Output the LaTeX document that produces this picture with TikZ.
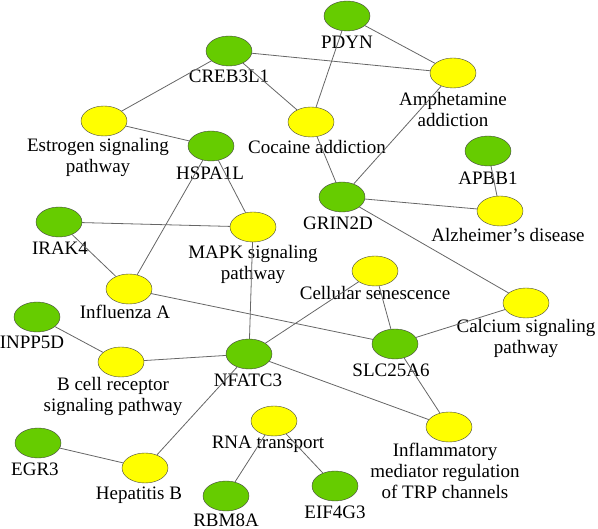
\documentclass[tikz,border=0pt]{standalone}
\usepackage{fontspec}
\setmainfont{Liberation Serif}
\usetikzlibrary{shapes.geometric}

\definecolor{genegreen}{HTML}{66CC00}
\definecolor{pathyellow}{HTML}{FFFF00}

\begin{document}
\begin{tikzpicture}
[x=1pt,y=-1pt,
  genedecorate/.style={shape=ellipse,draw=black!75,fill=genegreen,minimum width=46pt,minimum height=30pt,inner sep=0pt},%
  pathdecorate/.style={genedecorate,fill=pathyellow},
  labeldecorate/.style={align=center,inner sep=0pt,font=\fontsize{19}{21}\selectfont},
  linedecorate/.style={-,draw=black!60,line width=0.8pt}]
\useasboundingbox (0,0) rectangle (598,529);
%% genes
\foreach \nodename/\x/\y/\lx/\ly/\txt in {
  creb/229/51/229/76/CREB3L1, pdyn/347/16/347/42/PDYN,
  hspa/211/146/210/173/HSPA1L, grin/342/197/338/223/GRIN2D,
  apbb/488/151/488/178/APBB1, irak/59/222/60/248/IRAK4,
  inpp/37/317/32/342/INPP5D, nfat/249/354/248/380/NFATC3,
  slc/395/344/391/370/SLC25A6, egr/38/443/35/469/EGR3,
  rbm/226/496/226/520/RBM8A, eif/335/486/335/512/EIF4G3}
{
  \node (\nodename) at (\x,\y) [genedecorate] {};
  \node (\nodename-l) at (\lx,\ly) [labeldecorate] {\txt};
}
%% pathways
\foreach \nodename/\x/\y/\lx/\ly/\txt in {
  amph/453/73/453/110/{Amphetamine\\addiction},
  coca/311/122/317/147/{Cocaine addiction},
  estr/104/121/98/157/{Estrogen signaling\\pathway},
  mapk/253/227/253/264/{MAPK signaling\\pathway},
  alzh/500/211/508/235/{Alzheimer’s disease},
  infl/129/289/125/312/{Influenza A},
  cell/375/271/375/293/{Cellular senescence},
  calc/526/303/526/338/{Calcium signaling\\pathway},
  bcel/121/362/113/396/{B cell receptor\\signaling pathway},
  rna/274/421/268/444/{RNA transport},
  hepb/145/468/139/495/{Hepatitis B},
  infm/449/427/445/471/{Inflammatory\\mediator regulation\\of TRP channels}}
{
  \node (\nodename) at (\x,\y) [pathdecorate] {};
  \node (\nodename-l) at (\lx,\ly) [labeldecorate] {\txt};
}
%% links
\path
\foreach \startnode/\endnode in {creb/amph, creb/estr, creb/coca, pdyn/amph,
  pdyn/coca, coca/grin, amph/grin, apbb/alzh, grin/alzh, grin/calc,
  estr/hspa, hspa/mapk, hspa/infl, irak/mapk, irak/infl, mapk/nfat,
  infl/slc, cell/nfat, cell/slc, slc/calc, slc/infm, nfat/infm,
  inpp/bcel, bcel/nfat, nfat/hepb, egr/hepb, rna/rbm, rna/eif}
{
  (\startnode) edge[linedecorate] (\endnode)
};
\end{tikzpicture}
\end{document}
